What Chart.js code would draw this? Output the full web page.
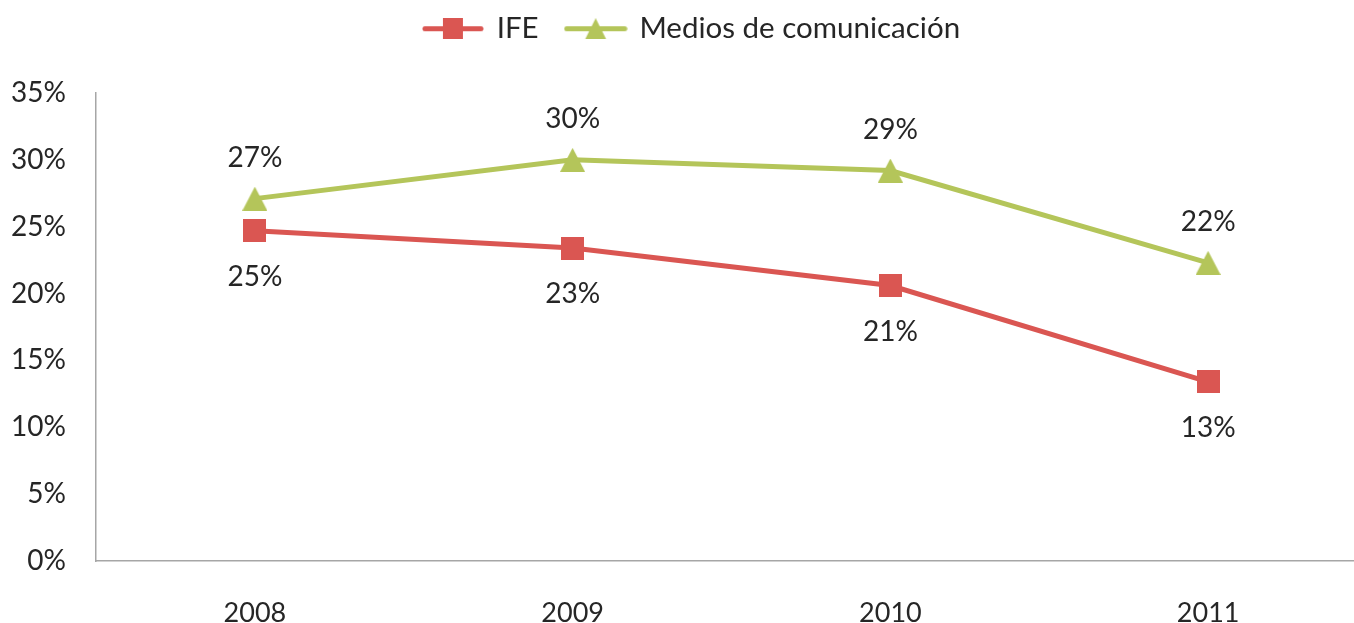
<!DOCTYPE html>
<html>
<head>
<meta charset="utf-8">
<script src="https://cdn.jsdelivr.net/npm/chart.js@4.4.1/dist/chart.umd.min.js"></script>
<style>
html,body{margin:0;padding:0;background:#fff;overflow:hidden;}
#wrap{width:1354px;height:623px;overflow:hidden;}
</style>
</head>
<body>
<div id="wrap"><canvas id="c" width="1384" height="623"></canvas></div>
<script>
const categories = ['2008', '2009', '2010', '2011'];
const ifeValues = [24.7, 23.4, 20.6, 13.4];
const mediosValues = [27.1, 30.0, 29.2, 22.3];
const seriesNames = ['IFE', 'Medios de comunicación'];
const yTicks = [0, 5, 10, 15, 20, 25, 30, 35];

const RED = '#DA5652';
const GREEN = '#B4C55A';
const TEXT = '#262626';
const FONT = 'Lato, "Open Sans", sans-serif';

function makeMarker(kind, color, w, h, lineLen) {
  const cw = lineLen || w;
  const c = document.createElement('canvas');
  c.width = cw; c.height = h;
  const ctx = c.getContext('2d');
  if (lineLen) {
    ctx.strokeStyle = color; ctx.lineWidth = 5; ctx.lineCap = 'round';
    ctx.beginPath(); ctx.moveTo(3, h / 2); ctx.lineTo(cw - 3, h / 2); ctx.stroke();
  }
  const x0 = (cw - w) / 2;
  ctx.fillStyle = color;
  if (kind === 'square') {
    ctx.fillRect(x0, 0, w, h);
  } else {
    ctx.beginPath();
    ctx.moveTo(x0 + w / 2, 0);
    ctx.lineTo(x0 + w, h);
    ctx.lineTo(x0, h);
    ctx.closePath();
    ctx.fill();
  }
  return c;
}

const redSquare = makeMarker('square', RED, 23, 23);
const greenTri = makeMarker('triangle', GREEN, 25, 24);
const legendRed = makeMarker('square', RED, 20, 21, 62);
const legendGreen = makeMarker('triangle', GREEN, 21, 21, 64);
const legendStyles = [legendRed, legendGreen];

const dataLabels = {
  id: 'dataLabels',
  afterDatasetsDraw(chart) {
    const ctx = chart.ctx;
    ctx.save();
    ctx.font = '28px ' + FONT;
    ctx.fillStyle = TEXT;
    ctx.textAlign = 'center';
    ctx.textBaseline = 'middle';
    chart.data.datasets.forEach((ds, i) => {
      const meta = chart.getDatasetMeta(i);
      const off = i === 0 ? 46 : -41;
      meta.data.forEach((pt, j) => {
        ctx.fillText(Math.round(ds.data[j]) + '%', pt.x, pt.y + off);
      });
    });
    ctx.restore();
  }
};

const legendFit = {
  id: 'legendFit',
  beforeInit(chart) {
    const lg = chart.legend;
    const origFit = lg.fit;
    lg.fit = function () {
      origFit.call(this);
      this.height = 93;
    };
    const origDraw = lg.draw;
    lg.draw = function () {
      const ctx = this.ctx;
      ctx.save();
      ctx.translate(0, -14);
      origDraw.apply(this, arguments);
      ctx.restore();
    };
  }
};

new Chart(document.getElementById('c'), {
  type: 'line',
  data: {
    labels: categories,
    datasets: [
      {
        label: seriesNames[0], data: ifeValues,
        borderColor: RED, backgroundColor: RED, borderWidth: 5,
        pointStyle: redSquare, pointRadius: 12, pointHoverRadius: 12,
        tension: 0, fill: false
      },
      {
        label: seriesNames[1], data: mediosValues,
        borderColor: GREEN, backgroundColor: GREEN, borderWidth: 5,
        pointStyle: greenTri, pointRadius: 12, pointHoverRadius: 12,
        tension: 0, fill: false
      }
    ]
  },
  options: {
    responsive: false,
    animation: false,
    devicePixelRatio: 1,
    layout: { padding: { top: 0, left: 0, right: 0, bottom: 0 } },
    plugins: {
      tooltip: { enabled: false },
      legend: {
        position: 'top',
        align: 'center',
        labels: {
          usePointStyle: true,
          pointStyleWidth: 58,
          padding: 28,
          color: TEXT,
          font: { family: FONT, size: 29.5 },
          generateLabels(chart) {
            const items = Chart.defaults.plugins.legend.labels.generateLabels(chart);
            items.forEach((it, i) => { it.pointStyle = legendStyles[i]; });
            return items;
          }
        }
      }
    },
    scales: {
      x: {
        type: 'category',
        offset: true,
        grid: { display: false, drawTicks: false },
        border: { display: true, color: '#A6A6A6', width: 1.5 },
        ticks: { color: TEXT, font: { family: FONT, size: 27 }, padding: 36 },
        afterFit(s) { s.height = 62; }
      },
      y: {
        min: 0, max: 35,
        afterBuildTicks(s) { s.ticks = yTicks.map(v => ({ value: v })); },
        grid: { display: false, drawTicks: false },
        border: { display: true, color: '#A6A6A6', width: 1.5 },
        ticks: {
          color: TEXT, font: { family: FONT, size: 28 }, padding: 30,
          callback: v => v + '%'
        },
        afterFit(s) { s.width = 96; }
      }
    }
  },
  plugins: [dataLabels, legendFit]
});
</script>
</body>
</html>
